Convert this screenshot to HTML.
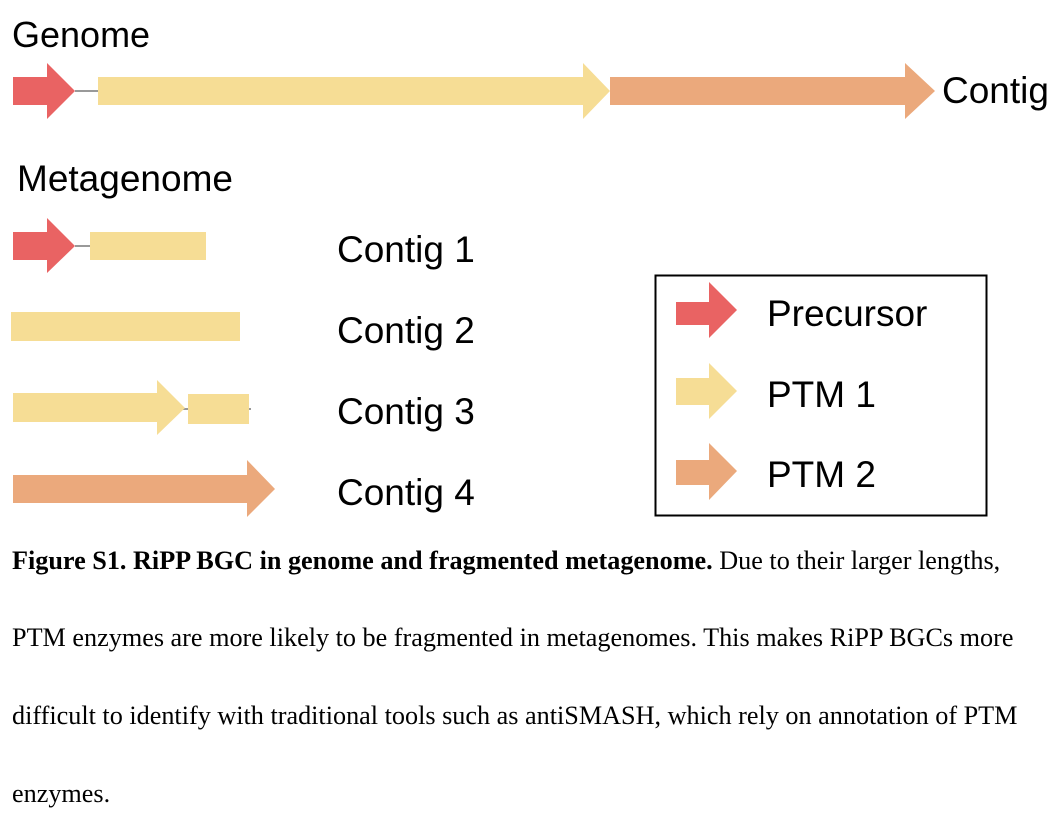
<!DOCTYPE html>
<html><head><style>
body{margin:0;background:#fff;width:1063px;height:825px;overflow:hidden;position:relative}
svg{position:absolute;left:0;top:0}
.cap{position:absolute;left:12px;font-family:"Liberation Serif",serif;font-size:26.2px;color:#000;white-space:nowrap;line-height:1}
</style></head><body>
<svg width="1063" height="825" font-family="Liberation Sans, sans-serif" font-size="37">
<text x="12" y="47" font-size="36">Genome</text>
<line x1="75" y1="91" x2="98" y2="91" stroke="#999" stroke-width="2"/>
<polygon points="13,77 47,77 47,63 75,91 47,119 47,105 13,105" fill="#e96363"/>
<polygon points="98,77 583,77 583,63 610,91 583,119 583,105 98,105" fill="#f6dd95"/>
<polygon points="610,77 905,77 905,63 935,91 905,119 905,105 610,105" fill="#eba97c"/>
<text x="942" y="103">Contig</text>
<text x="17" y="191">Metagenome</text>
<line x1="75" y1="246" x2="90" y2="246" stroke="#999" stroke-width="2"/>
<polygon points="13,232 47,232 47,218 75,246 47,273 47,260 13,260" fill="#e96363"/>
<rect x="90" y="232" width="116" height="28" fill="#f6dd95"/>
<text x="337" y="262">Contig 1</text>
<rect x="11" y="312" width="229" height="29" fill="#f6dd95"/>
<text x="337" y="343">Contig 2</text>
<line x1="183" y1="409" x2="251" y2="409" stroke="#999" stroke-width="2"/>
<polygon points="13,393 157,393 157,380 185,408 157,435 157,422 13,422" fill="#f6dd95"/>
<rect x="188" y="394" width="61" height="30" fill="#f6dd95"/>
<text x="337" y="424">Contig 3</text>
<polygon points="13,475 247,475 247,460 275,489 247,517 247,503 13,503" fill="#eba97c"/>
<text x="337" y="505">Contig 4</text>
<rect x="655.5" y="275.5" width="331" height="240" fill="none" stroke="#000" stroke-width="2"/>
<polygon points="676,302 709,302 709,282 737,310 709,338 709,325 676,325" fill="#e96363"/>
<text x="767" y="326">Precursor</text>
<polygon points="676,378 709,378 709,363 737,391 709,419 709,405 676,405" fill="#f6dd95"/>
<text x="767" y="407">PTM 1</text>
<polygon points="676,460 709,460 709,443 737,471 709,500 709,485 676,485" fill="#eba97c"/>
<text x="767" y="487">PTM 2</text>
</svg>
<div class="cap" style="top:548px;font-size:26.2px"><b>Figure S1. RiPP BGC in genome and fragmented metagenome.</b> Due to their larger lengths,</div>
<div class="cap" style="top:625px">PTM enzymes are more likely to be fragmented in metagenomes. This makes RiPP BGCs more</div>
<div class="cap" style="top:703px">difficult to identify with traditional tools such as antiSMASH, which rely on annotation of PTM</div>
<div class="cap" style="top:781px">enzymes.</div>
</body></html>
